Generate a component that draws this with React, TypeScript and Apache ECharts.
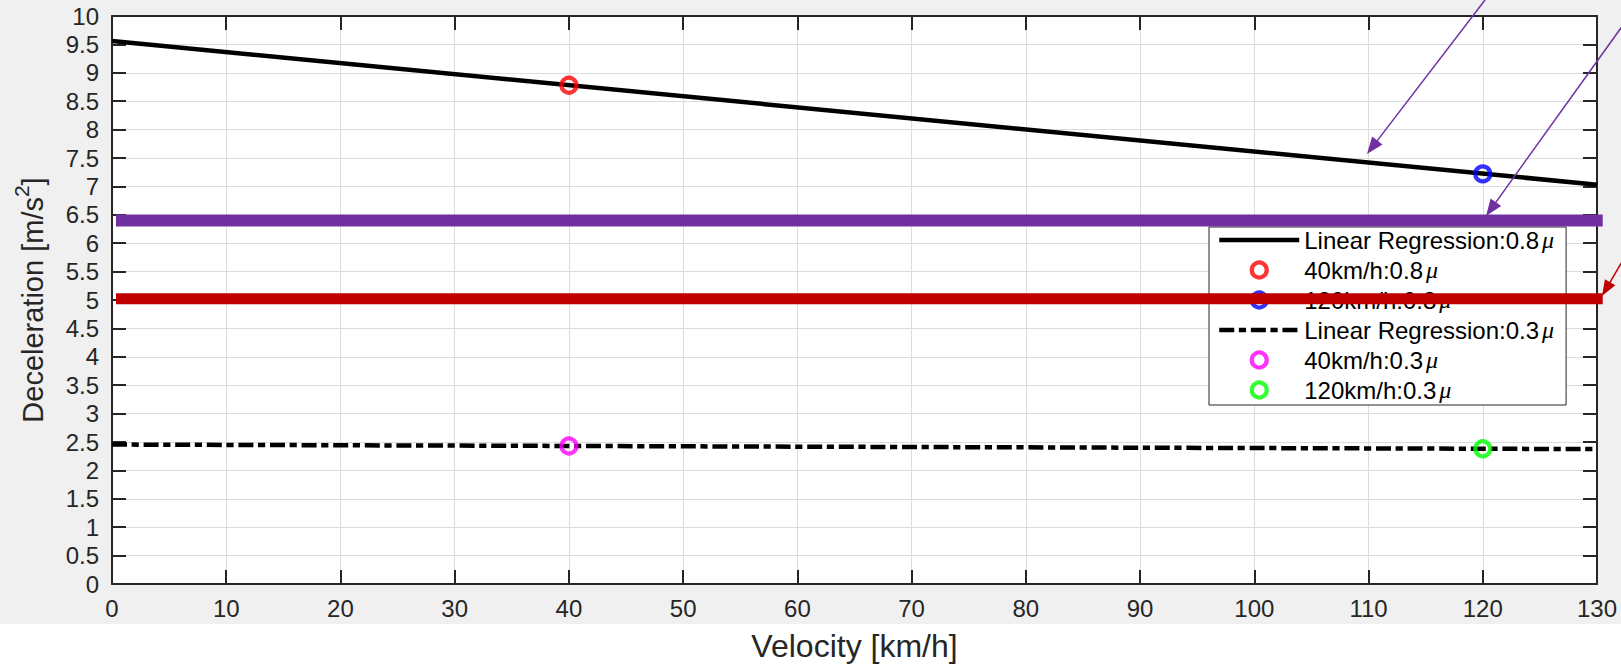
import React, { useEffect, useRef } from 'react';
import * as echarts from 'echarts';

const X_MIN = 0;
const X_MAX = 130;
const X_STEP = 10;
const Y_MIN = 0;
const Y_MAX = 10;
const Y_STEP = 0.5;

const regVelocity = [0, 130];
const reg08 = [9.56, 7.03];
const reg03 = [2.455, 2.375];
const pt40_08 = [[40, 8.78]];
const pt120_08 = [[120, 7.22]];
const pt40_03 = [[40, 2.43]];
const pt120_03 = [[120, 2.38]];
const purpleBand = [[0.35, 6.4], [130.5, 6.4]];
const redBand = [[0.35, 5.02], [130.5, 5.02]];

const names = [
  'Linear Regression:0.8μ',
  '40km/h:0.8μ',
  '120km/h:0.8μ',
  'Linear Regression:0.3μ',
  '40km/h:0.3μ',
  '120km/h:0.3μ',
];

const FONT = '"Liberation Sans", Arial, Helvetica, sans-serif';
const AX = '#262626';
const PURPLE = '#7030A0';
const RED = '#C00000';
const DASHDOT = [15, 4.6, 7.2, 4.8];

function arrow(x1: number, y1: number, x2: number, y2: number, color: string, len = 17, half = 6.5) {
  const dx = x2 - x1;
  const dy = y2 - y1;
  const d = Math.sqrt(dx * dx + dy * dy);
  const ux = dx / d;
  const uy = dy / d;
  const bx = x2 - ux * len;
  const by = y2 - uy * len;
  const px = -uy;
  const py = ux;
  return [
    {
      type: 'line',
      z: 20,
      shape: { x1, y1, x2: bx + ux * 2, y2: by + uy * 2 },
      style: { stroke: color, lineWidth: 1.5 },
    },
    {
      type: 'polygon',
      z: 20,
      shape: {
        points: [
          [x2, y2],
          [bx + px * half, by + py * half],
          [bx - px * half, by - py * half],
        ],
      },
      style: { fill: color },
    },
  ];
}

function zip(xs: number[], ys: number[]) {
  return xs.map((x, i) => [x, ys[i]]);
}

const MARK_BW = 4.2;

const scatterStyle = (c: string) => ({
  type: 'scatter',
  symbol: 'circle',
  symbolSize: 15,
  z: 3,
  itemStyle: { color: 'rgba(255,255,255,0)', borderColor: c, borderWidth: MARK_BW },
});

export default function App() {
  const ref = useRef<HTMLDivElement>(null);
  useEffect(() => {
    if (!ref.current) return;
    const chart = echarts.init(ref.current, null, { renderer: 'svg' });
    const axisCommon = {
      type: 'value',
      axisLine: { show: true, onZero: false, lineStyle: { color: AX, width: 2 } },
      axisTick: { show: true, inside: true, length: 14, lineStyle: { color: AX, width: 2 } },
    };
    const legendData = names.map((n, i) =>
      i === 0
        ? { name: n, lineStyle: { width: 4.5 } }
        : i === 3
        ? { name: n, lineStyle: { width: 4.5, type: DASHDOT } }
        : { name: n, itemStyle: { borderWidth: MARK_BW } }
    );
    const option: any = {
      animation: false,
      backgroundColor: '#ffffff',
      textStyle: { fontFamily: FONT },
      grid: {
        left: 112,
        top: 16,
        right: 24,
        bottom: 82,
        show: true,
        backgroundColor: '#ffffff',
        borderWidth: 0,
        containLabel: false,
        outerBoundsMode: 'none',
      },
      graphic: [
        {
          type: 'rect',
          z: -10,
          silent: true,
          shape: { x: 0, y: 0, width: 1621, height: 624 },
          style: { fill: '#f0f0f0' },
        },
        ...arrow(1485, 0, 1367, 154, PURPLE),
        ...arrow(1641, 0, 1486, 216, PURPLE),
        ...arrow(1636, 238, 1602, 296, RED, 16, 6),
      ],
      legend: {
        orient: 'vertical',
        left: 1209,
        top: 227,
        data: legendData,
        itemWidth: 80,
        itemHeight: 15,
        itemGap: 6,
        padding: [1, 12, 3, 8],
        backgroundColor: '#ffffff',
        borderColor: AX,
        borderWidth: 1,
        borderRadius: 0,
        z: 4,
        selectedMode: false,
        formatter: (name: string) => {
          const i = name.indexOf('μ');
          return `{t|${name.slice(0, i)}}{mu|μ}`;
        },
        textStyle: {
          color: '#000',
          rich: {
            t: { fontSize: 24, fontFamily: FONT, color: '#000', lineHeight: 22 },
            mu: {
              fontSize: 24,
              fontStyle: 'italic',
              fontFamily: '"Liberation Serif", "DejaVu Serif", serif',
              color: '#000',
              padding: [0, 0, 0, 3],
              lineHeight: 22,
            },
          },
        },
      },
      xAxis: [
        {
          ...axisCommon,
          position: 'bottom',
          min: X_MIN,
          max: X_MAX,
          interval: X_STEP,
          name: 'Velocity [km/h]',
          nameLocation: 'middle',
          nameGap: 46,
          nameTextStyle: { fontSize: 32, color: AX, fontFamily: FONT },
          axisLabel: { fontSize: 24, color: AX, margin: 12, fontFamily: FONT },
          splitLine: { show: true, lineStyle: { color: '#dcdcdc', width: 1 } },
        },
        {
          ...axisCommon,
          position: 'top',
          min: X_MIN,
          max: X_MAX,
          interval: X_STEP,
          axisLabel: { show: false },
          splitLine: { show: false },
        },
      ],
      yAxis: [
        {
          ...axisCommon,
          position: 'left',
          min: Y_MIN,
          max: Y_MAX,
          interval: Y_STEP,
          name: '{a|Deceleration [m/s}{s|2}{a|]}',
          nameLocation: 'middle',
          nameRotate: 90,
          nameGap: 65,
          nameTextStyle: {
            color: AX,
            rich: {
              a: { fontSize: 29, color: AX, fontFamily: FONT, lineHeight: 36, verticalAlign: 'bottom' },
              s: { fontSize: 21, color: AX, fontFamily: FONT, lineHeight: 36, verticalAlign: 'top' },
            },
          },
          axisLabel: { fontSize: 24, color: AX, margin: 13, fontFamily: FONT },
          splitLine: { show: true, lineStyle: { color: '#dcdcdc', width: 1 } },
        },
        {
          ...axisCommon,
          position: 'right',
          min: Y_MIN,
          max: Y_MAX,
          interval: Y_STEP,
          axisLabel: { show: false },
          splitLine: { show: false },
        },
      ],
      series: [
        {
          name: names[0],
          type: 'line',
          data: zip(regVelocity, reg08),
          symbol: 'none',
          z: 2,
          lineStyle: { color: '#000', width: 4.5 },
          itemStyle: { color: 'rgba(0,0,0,0)', borderWidth: 0 },
        },
        { name: names[1], data: pt40_08, ...scatterStyle('#ff0000') },
        { name: names[2], data: pt120_08, ...scatterStyle('#0000ff') },
        {
          name: names[3],
          type: 'line',
          data: zip(regVelocity, reg03),
          symbol: 'none',
          z: 2,
          lineStyle: { color: '#000', width: 4.5, type: DASHDOT },
          itemStyle: { color: 'rgba(0,0,0,0)', borderWidth: 0 },
        },
        { name: names[4], data: pt40_03, ...scatterStyle('#ff00ff') },
        { name: names[5], data: pt120_03, ...scatterStyle('#00ff00') },
        {
          name: 'purple',
          type: 'line',
          data: purpleBand,
          symbol: 'none',
          clip: false,
          z: 6,
          silent: true,
          lineStyle: { color: PURPLE, width: 12, cap: 'butt' },
        },
        {
          name: 'red',
          type: 'line',
          data: redBand,
          symbol: 'none',
          clip: false,
          z: 6,
          silent: true,
          lineStyle: { color: RED, width: 11, cap: 'butt' },
        },
      ],
    };
    chart.setOption(option);
    return () => chart.dispose();
  }, []);
  return (
    <div
      ref={ref}
      style={{ position: 'fixed', left: 0, top: 0, width: 1621, height: 666 }}
    />
  );
}
